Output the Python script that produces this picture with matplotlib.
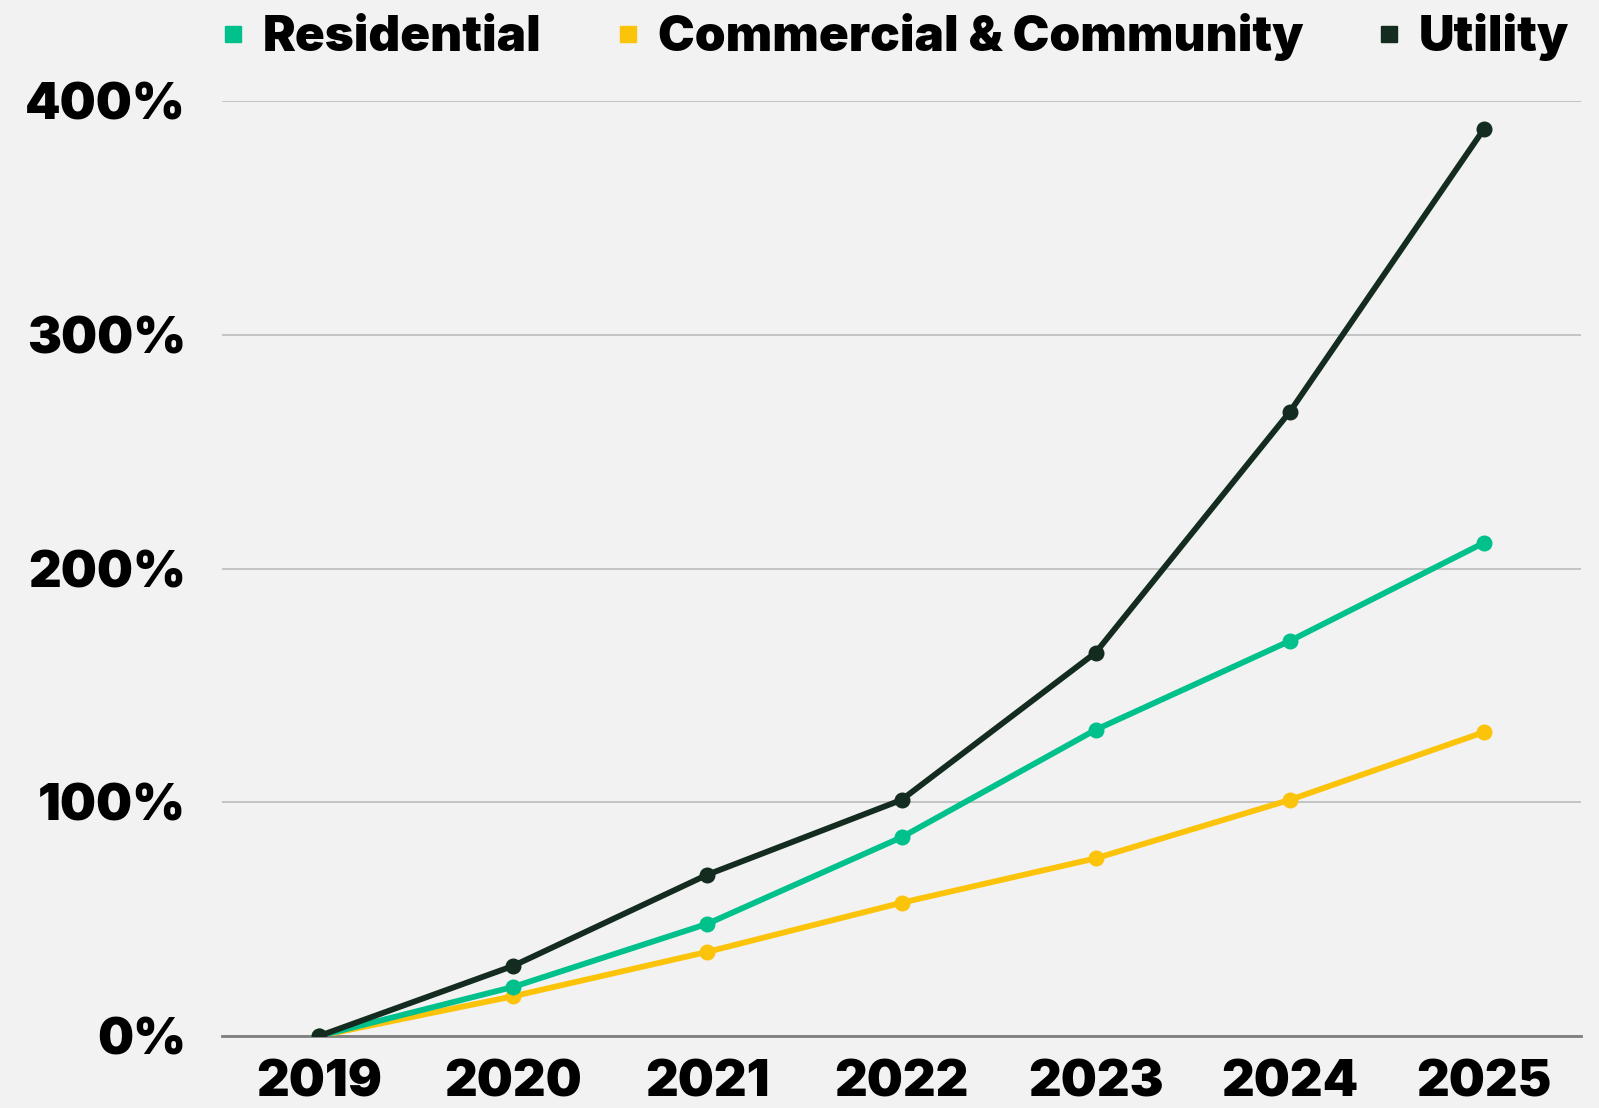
import matplotlib
matplotlib.use("Agg")
import matplotlib.pyplot as plt
from matplotlib.lines import Line2D
from matplotlib.ticker import FuncFormatter

years = ["2019", "2020", "2021", "2022", "2023", "2024", "2025"]
residential = [0, 21, 48, 85, 131, 169, 211]
commercial = [0, 17, 36, 57, 76, 101, 130]
utility = [0, 30, 69, 101, 164, 267, 388]
series_names = ["Residential", "Commercial & Community", "Utility"]
colors = ["#00c08b", "#fcc30b", "#142b20"]
y_ticks = [0, 100, 200, 300, 400]

plt.rcParams['font.family'] = ['Inter', 'DejaVu Sans']
bg = "#f2f2f2"
fig = plt.figure(figsize=(15.99, 11.08), dpi=100, facecolor=bg)
ax = fig.add_axes([222/1599, 1-1036/1108, (1581-222)/1599, (1036-101)/1108])
ax.set_facecolor(bg)

x = list(range(len(years)))
for vals, c in [(commercial, colors[1]), (residential, colors[0]), (utility, colors[2])]:
    ax.plot(x, vals, color=c, lw=4.2, marker='o', markersize=10.5, solid_capstyle='round', zorder=3)

ax.set_xlim(-0.5, len(years) - 0.5)
ax.set_ylim(0, 400)
ax.set_yticks(y_ticks)
ax.yaxis.set_major_formatter(FuncFormatter(lambda v, p: f"{int(v)}%"))
ax.set_xticks(x)
ax.set_xticklabels(years)
ax.grid(axis='y', color='#c0c0c0', lw=1.3, zorder=0)
ax.set_axisbelow(True)
for s in ['top', 'right', 'left']:
    ax.spines[s].set_visible(False)
ax.spines['bottom'].set_color('#7f7f7f')
ax.spines['bottom'].set_linewidth(2)
ax.spines['bottom'].set_zorder(2)
ax.tick_params(axis='both', length=0, labelsize=36.5, colors='black')
ax.tick_params(axis='y', pad=26)
ax.tick_params(axis='x', pad=17)
for lab in ax.get_xticklabels() + ax.get_yticklabels():
    lab.set_fontweight(900)

handles = [Line2D([], [], marker='s', linestyle='none', markersize=11, color=c) for c in colors]
leg = fig.legend(handles, series_names, loc='upper center', bbox_to_anchor=(0.559, 1.028), ncol=3,
                 frameon=False, handlelength=0.6, handletextpad=0.3, columnspacing=1.45,
                 prop={'size': 35.5, 'weight': 900})

fig.savefig("out.png", dpi=100, facecolor=bg)
